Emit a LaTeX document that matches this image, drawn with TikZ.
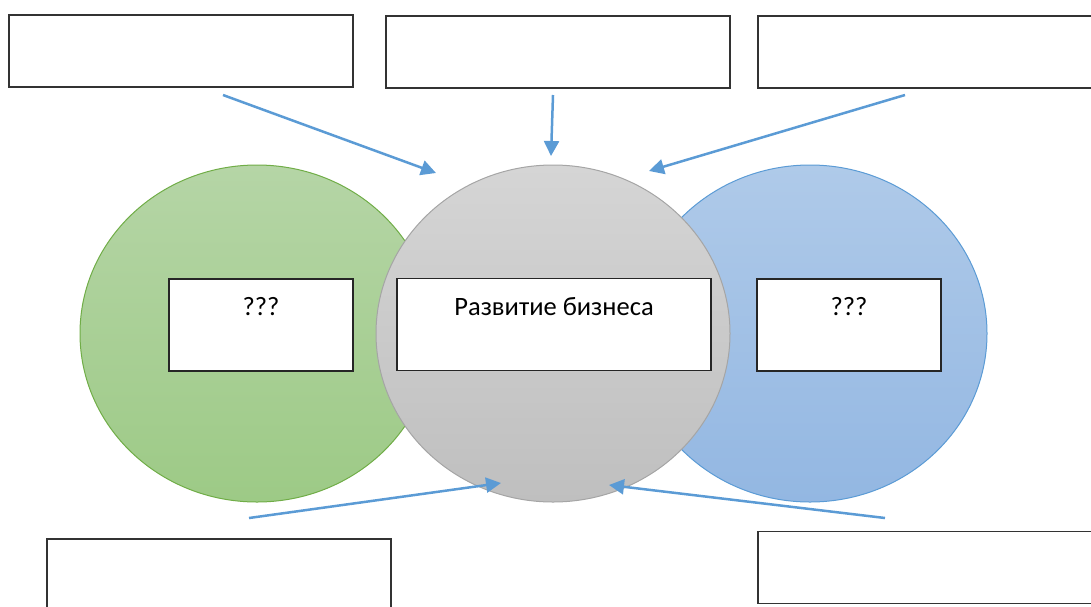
\documentclass[tikz,border=0pt]{standalone}
\usepackage{fontspec}
\setmainfont{Carlito}
\usetikzlibrary{arrows.meta,shapes.geometric}
\definecolor{grnL}{HTML}{B5D5A6}
\definecolor{grnD}{HTML}{9DCA86}
\definecolor{grnO}{HTML}{70AD47}
\definecolor{gryL}{HTML}{D5D5D5}
\definecolor{gryD}{HTML}{BFBFBF}
\definecolor{gryO}{HTML}{A5A5A5}
\definecolor{bluL}{HTML}{AFCAE9}
\definecolor{bluD}{HTML}{93B7E2}
\definecolor{bluO}{HTML}{5B9BD5}
\definecolor{arr}{HTML}{5B9BD5}
\tikzset{
  bubble/.style={ellipse, minimum width=354pt, minimum height=337pt, inner sep=0pt, line width=1pt},
  emptybox/.style={draw=black!80, line width=1.4pt, fill=white, minimum width=344pt, minimum height=72pt, inner sep=0pt},
  textbox/.style={draw=black!85, line width=1.2pt, fill=white, minimum height=92pt, inner sep=0pt},
  boxlabel/.style={font=\fontsize{26.5}{30}\selectfont, inner sep=0pt, anchor=base},
  feed/.style={draw=arr, line width=2.5pt, -{Triangle[length=15pt,width=15pt]}, shorten >=0pt}
}
\begin{document}
\begin{tikzpicture}[x=1pt,y=-1pt]
\useasboundingbox (0,0) rectangle (1091,606);
\clip (0,0) rectangle (1091,606);
% bubbles
\node[bubble, draw=grnO, top color=grnL, bottom color=grnD] (green) at (257,333.5) {};
\node[bubble, draw=bluO, top color=bluL, bottom color=bluD] (blue) at (810,333.5) {};
\node[bubble, draw=gryO, top color=gryL, bottom color=gryD] (gray) at (553,333.5) {};
% inner boxes
\node[textbox, minimum width=184pt] (gbox) at (261,325) {};
\node[textbox, minimum width=314pt] (cbox) at (554,324.5) {};
\node[textbox, minimum width=184pt] (bbox) at (849,325) {};
\node[boxlabel] (gtxt) at (261,315) {???};
\node[boxlabel] (ctxt) at (554,315) {Развитие бизнеса};
\node[boxlabel] (btxt) at (849,315) {???};
% outer empty boxes
\node[emptybox] (tl) at (181,51) {};
\node[emptybox] (tm) at (558,52) {};
\node[emptybox] (tr) at (930,52) {};
\node[emptybox] (bl) at (219,575) {};
\node[emptybox] (br) at (930,567.5) {};
% arrow coordinates
\coordinate (s1) at (223,95);
\coordinate (e1) at (436,173);
\coordinate (s2) at (553,95);
\coordinate (e2) at (551,156);
\coordinate (s3) at (905,95);
\coordinate (e3) at (649,171);
\coordinate (s4) at (249,518);
\coordinate (e4) at (501,483);
\coordinate (s5) at (885,518);
\coordinate (e5) at (609,485);
\draw[feed] (s1) -- (e1);
\draw[feed] (s2) -- (e2);
\draw[feed] (s3) -- (e3);
\draw[feed] (s4) -- (e4);
\draw[feed] (s5) -- (e5);
\end{tikzpicture}
\end{document}
